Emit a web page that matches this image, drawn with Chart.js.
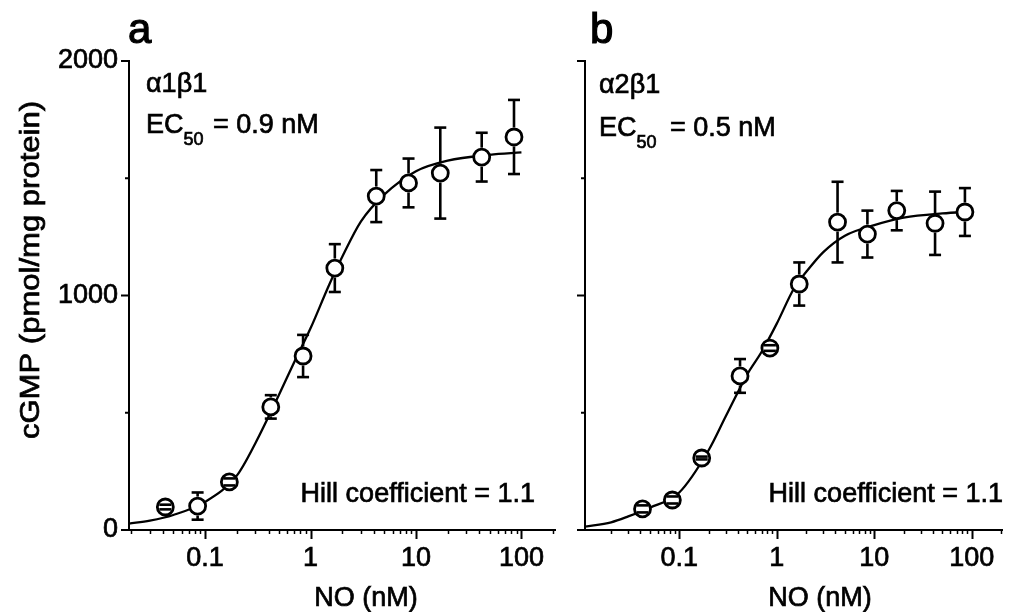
<!DOCTYPE html>
<html>
<head>
<meta charset="utf-8">
<script src="https://cdn.jsdelivr.net/npm/chart.js@4.4.0/dist/chart.umd.min.js"></script>
<style>
  html, body { margin: 0; padding: 0; background: #fff; }
  #wrap { position: relative; width: 1013px; height: 612px; overflow: hidden; }
  canvas { position: absolute; top: 0; }
  #panelA { left: 0; }
  #panelB { left: 566px; }
</style>
</head>
<body>
<div id="wrap">
  <canvas id="panelA" width="566" height="612"></canvas>
  <canvas id="panelB" width="447" height="612"></canvas>
</div>
<script>
// NO concentrations (nM) of the measured points, same in both panels
const doseNM = [0.042, 0.085, 0.17, 0.42, 0.85, 1.7, 4.2, 8.5, 17, 42, 85];

// panel a: alpha1 beta1
const cgmpA = [98, 102, 205, 525, 742, 1117, 1424, 1480, 1522, 1590, 1676];
const semA  = [10, 58, 15, 50, 90, 102, 111, 104, 194, 104, 158];
// fitted curve
const fitDoseA = [0.019, 0.03, 0.05, 0.1, 0.2, 0.3, 0.5, 0.7, 1, 1.5, 2, 3, 5, 10, 20, 50, 100];
const fitA     = [27, 40, 64, 120, 232, 370, 575, 715, 860, 1045, 1165, 1315, 1430, 1530, 1575, 1600, 1610];

// panel b: alpha2 beta1
const cgmpB = [90, 128, 307, 657, 776, 1049, 1313, 1262, 1362, 1308, 1356];
const semB  = [15, 15, 6, 72, 12, 92, 172, 100, 84, 135, 102];
const fitDoseB = [0.0108, 0.02, 0.03, 0.05, 0.1, 0.2, 0.3, 0.5, 0.7, 1, 1.5, 2, 3, 5, 10, 20, 50, 100];
const fitB     = [14, 33, 58, 95, 160, 340, 485, 665, 760, 880, 1030, 1100, 1185, 1255, 1300, 1332, 1350, 1357];

// axis ticks
const xTickValues = [0.1, 1, 10, 100];
const yTickValues = [0, 500, 1000, 1500, 2000];
const yLabelValues = [0, 1000, 2000];

const FONT = '"Liberation Sans", Arial, Helvetica, sans-serif';
const INK = 0.7; // extra stroke so the text looks as heavy as the scan

function toXY(xs, ys) {
  return xs.map((x, i) => ({ x: x, y: ys[i] }));
}

function line(ctx, x1, y1, x2, y2) {
  ctx.beginPath();
  ctx.moveTo(x1, y1);
  ctx.lineTo(x2, y2);
  ctx.stroke();
}

function ink(ctx, str, x, y) {
  ctx.fillText(str, x, y);
  ctx.strokeText(str, x, y);
}

// major + minor log ticks on x, major/minor ticks on y
const tickPlugin = {
  id: 'axisTicks',
  afterDraw(chart) {
    const { ctx, chartArea, scales: { x, y } } = chart;
    ctx.save();
    ctx.strokeStyle = '#000';
    for (let e = -2; e <= 2; e++) {
      for (let m = 1; m <= 9; m++) {
        const v = m * Math.pow(10, e);
        if (v < x.min || v > x.max) continue;
        const px = Math.round(x.getPixelForValue(v)) + 0.5;
        ctx.lineWidth = m === 1 ? 2 : 1.5;
        line(ctx, px, chartArea.bottom, px, chartArea.bottom + (m === 1 ? 9 : 4));
      }
    }
    yTickValues.forEach(v => {
      const py = y.getPixelForValue(v);
      const len = v % 1000 === 0 ? 8 : 4;
      ctx.lineWidth = 2;
      line(ctx, chartArea.left, py, chartArea.left - len, py);
    });
    ctx.restore();
  }
};

// vertical SEM bars, drawn outside the open circles
const errorBarPlugin = {
  id: 'errorBars',
  afterDatasetsDraw(chart) {
    const { ctx, scales: { y } } = chart;
    const ds = chart.data.datasets[0];
    const meta = chart.getDatasetMeta(0);
    const r = 9.5;
    ctx.save();
    ctx.strokeStyle = '#000';
    ctx.lineWidth = 2.6;
    meta.data.forEach((pt, i) => {
      const err = ds.errors[i];
      if (!err) return;
      const top = y.getPixelForValue(ds.data[i].y + err);
      const bot = y.getPixelForValue(ds.data[i].y - err);
      if (pt.y - top > r) line(ctx, pt.x, top, pt.x, pt.y - r);
      if (bot - pt.y > r) line(ctx, pt.x, pt.y + r, pt.x, bot);
      line(ctx, pt.x - 6, top, pt.x + 6, top);
      line(ctx, pt.x - 6, bot, pt.x + 6, bot);
    });
    ctx.restore();
  }
};

function textPlugin(t) {
  return {
    id: 'panelText',
    afterDraw(chart) {
      const ctx = chart.ctx;
      ctx.save();
      ctx.fillStyle = '#000';
      ctx.strokeStyle = '#000';
      ctx.textBaseline = 'alphabetic';
      ctx.textAlign = 'left';
      ctx.font = '42px ' + FONT;
      ctx.lineWidth = 1.2;
      ink(ctx, t.letter, t.letterX, 43);
      ctx.lineWidth = INK;

      ctx.font = '27px ' + FONT;
      ink(ctx, t.subunit, t.textX, t.subunitY);
      ink(ctx, 'EC', t.textX, t.ecY);
      const w = ctx.measureText('EC').width;
      ctx.font = '18px ' + FONT;
      ink(ctx, '50', t.textX + w, t.ecY + 12);
      ctx.font = '27px ' + FONT;
      ink(ctx, '= ' + t.ec50 + ' nM', t.eqX, t.ecY);

      ctx.textAlign = 'right';
      ink(ctx, 'Hill coefficient = 1.1', t.hillRight, 502);

      ctx.textAlign = 'center';
      ink(ctx, 'NO (nM)', t.xTitleX, 606);

      if (t.yTitle) {
        ctx.translate(39, 270);
        ctx.rotate(-Math.PI / 2);
        ctx.scale(1.15, 1);
        ink(ctx, t.yTitle, 0, 0);
      }
      ctx.restore();
    }
  };
}

function makePanel(canvasId, opt) {
  return new Chart(document.getElementById(canvasId), {
    type: 'scatter',
    data: {
      datasets: [
        {
          label: 'mean',
          data: toXY(doseNM, opt.values),
          errors: opt.errors,
          pointRadius: 8,
          pointHoverRadius: 8,
          borderWidth: 2.8,
          borderColor: '#000',
          backgroundColor: '#fff',
          showLine: false
        },
        {
          label: 'fit',
          type: 'line',
          data: toXY(opt.fitDose, opt.fit),
          borderColor: '#000',
          borderWidth: 2.3,
          pointRadius: 0,
          fill: false,
          cubicInterpolationMode: 'monotone'
        }
      ]
    },
    options: {
      responsive: false,
      animation: false,
      layout: { padding: { top: 61, right: opt.padRight, left: 0, bottom: 0 } },
      plugins: { legend: { display: false }, tooltip: { enabled: false } },
      scales: {
        x: {
          type: 'logarithmic',
          min: opt.xMin,
          max: opt.xMax,
          grid: { display: false, drawTicks: false, tickLength: 0 },
          border: { display: true, color: '#000', width: 2 },
          ticks: {
            color: '#000',
            font: { family: FONT, size: 27 },
            textStrokeColor: '#000',
            textStrokeWidth: INK,
            padding: 12,
            maxRotation: 0,
            autoSkip: false,
            callback: v => String(v)
          },
          afterBuildTicks: s => { s.ticks = xTickValues.map(v => ({ value: v })); },
          afterFit: s => { s.height = 82; }
        },
        y: {
          type: 'linear',
          min: 0,
          max: 2000,
          grid: { display: false, drawTicks: false, tickLength: 0 },
          border: { display: true, color: '#000', width: 2 },
          ticks: {
            display: opt.yLabels,
            color: '#000',
            font: { family: FONT, size: 27 },
            textStrokeColor: '#000',
            textStrokeWidth: INK,
            padding: 11,
            callback: v => String(v)
          },
          afterBuildTicks: s => { s.ticks = yLabelValues.map(v => ({ value: v })); },
          afterFit: s => { s.width = opt.yWidth; }
        }
      }
    },
    plugins: [tickPlugin, errorBarPlugin, textPlugin(opt.text)]
  });
}

makePanel('panelA', {
  values: cgmpA, errors: semA, fitDose: fitDoseA, fit: fitA,
  xMin: 0.019, xMax: 209, yWidth: 129, padRight: 8, yLabels: true,
  text: {
    letter: 'a', letterX: 128, subunit: '\u03b11\u03b21', textX: 146, subunitY: 92,
    ecY: 133, eqX: 213, ec50: '0.9', hillRight: 535, xTitleX: 366,
    yTitle: 'cGMP (pmol/mg protein)'
  }
});

makePanel('panelB', {
  values: cgmpB, errors: semB, fitDose: fitDoseB, fit: fitB,
  xMin: 0.0108, xMax: 205, yWidth: 19, padRight: 0, yLabels: false,
  text: {
    letter: 'b', letterX: 24, subunit: '\u03b12\u03b21', textX: 33, subunitY: 93,
    ecY: 136, eqX: 104, ec50: '0.5', hillRight: 437, xTitleX: 254,
    yTitle: null
  }
});
</script>
</body>
</html>
